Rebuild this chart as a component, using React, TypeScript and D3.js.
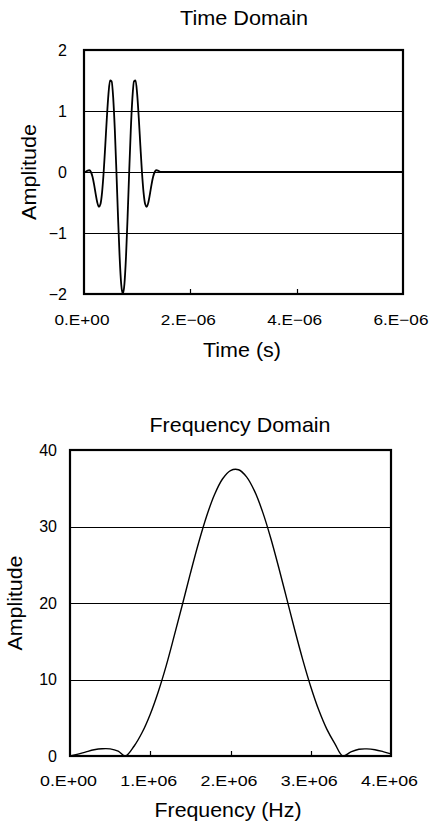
import React from "react";
import * as d3 from "d3";

// ---------- Time-domain data (time in microseconds, amplitude) ----------
const timeUs: number[] = [
  0, 0.01, 0.04, 0.07, 0.1, 0.13, 0.16, 0.19, 0.22, 0.25, 0.28, 0.31, 0.34, 0.37, 0.4, 0.43, 0.46, 0.49,
  0.52, 0.55, 0.58, 0.61, 0.64, 0.67, 0.7, 0.73, 0.76, 0.79, 0.82, 0.85, 0.88, 0.91, 0.94, 0.97,
  1.0, 1.03, 1.06, 1.09, 1.12, 1.15, 1.18, 1.21, 1.24, 1.27, 1.3, 1.33, 1.36, 1.39, 1.42, 1.45,
  1.6, 6.0,
];
const timeAmp: number[] = [
  0, 0, 0.008, 0.024, 0.029, 0, -0.079, -0.207, -0.362, -0.5, -0.57, -0.524, -0.333, 0, 0.433, 0.89,
  1.277, 1.5, 1.486, 1.207, 0.686, 0, -0.736, -1.39, -1.84, -2, -1.84, -1.39, -0.736, 0, 0.686,
  1.207, 1.486, 1.5, 1.277, 0.89, 0.433, 0, -0.333, -0.524, -0.57, -0.5, -0.362, -0.207, -0.079,
  0, 0.029, 0.024, 0.008, 0, 0, 0,
];
const timeTicks: number[] = [0, 2e-6, 4e-6, 6e-6];
const timeTickLabels: string[] = ["0.E+00", "2.E\u221206", "4.E\u221206", "6.E\u221206"];
const timeYTicks: number[] = [2, 1, 0, -1, -2];
const timeYTickLabels: string[] = ["2", "1", "0", "\u22121", "\u22122"];
const timeGrid: number[] = [1, 0, -1];

// ---------- Frequency-domain data (frequency in MHz, amplitude) ----------
const freqMHz: number[] = [
  0, 0.1, 0.2, 0.3, 0.4, 0.5, 0.6, 0.69, 0.8, 0.9, 1.0, 1.1, 1.2, 1.3, 1.4, 1.5, 1.6, 1.7, 1.8, 1.9,
  2.0, 2.1, 2.2, 2.3, 2.4, 2.5, 2.6, 2.7, 2.8, 2.9, 3.0, 3.1, 3.2, 3.3, 3.4, 3.5, 3.6, 3.7, 3.8, 3.9, 4.0,
];
const freqAmp: number[] = [
  0.01, 0.24, 0.54, 0.81, 0.95, 0.93, 0.63, 0, 1.31, 3.1, 5.47, 8.41, 11.85, 15.76, 19.77, 23.87,
  27.78, 31.28, 34.15, 36.21, 37.31, 37.42, 36.49, 34.62, 31.91, 28.53, 24.68, 20.6, 16.5, 12.6,
  9.06, 6.01, 3.52, 1.62, 0, 0.53, 0.88, 0.93, 0.82, 0.58, 0.28,
];
const freqTicks: number[] = [0, 1e6, 2e6, 3e6, 4e6];
const freqTickLabels: string[] = ["0.E+00", "1.E+06", "2.E+06", "3.E+06", "4.E+06"];
const freqYTicks: number[] = [40, 30, 20, 10, 0];
const freqYTickLabels: string[] = ["40", "30", "20", "10", "0"];
const freqGrid: number[] = [30, 20, 10];

const FONT = "'Liberation Sans', Arial, Helvetica, sans-serif";

type PanelProps = {
  title: string;
  xLabel: string;
  xs: number[];
  ys: number[];
  xDomain: [number, number];
  yDomain: [number, number];
  box: { x0: number; x1: number; y0: number; y1: number };
  xTicks: number[];
  xTickLabels: string[];
  yTicks: number[];
  yTickLabels: string[];
  grid: number[];
  titleY: number;
  titleX: number;
  titleLen: number;
  xLabelX: number;
  xLabelY: number;
  xLabelLen: number;
  tickLabelY: number;
  tickLabelLen: number;
  tickLabelDx: number;
  yLabelRight: number;
  ampX: number;
  ampLen: number;
  lineWidth: number;
  smooth: boolean;
};

function Panel(p: PanelProps) {
  const x = d3.scaleLinear().domain(p.xDomain).range([p.box.x0, p.box.x1]);
  const y = d3.scaleLinear().domain(p.yDomain).range([p.box.y1, p.box.y0]);
  const pts: [number, number][] = p.xs.map((v, i) => [v, p.ys[i]]);
  const line = d3
    .line<[number, number]>()
    .x((d) => x(d[0]))
    .y((d) => Math.min(y(d[1]), p.box.y1))
    .curve(p.smooth ? d3.curveCatmullRom.alpha(0.5) : d3.curveMonotoneX);
  const yMid = (y(p.yDomain[0]) + y(p.yDomain[1])) / 2;
  return (
    <g>
      <text
        x={p.titleX}
        y={p.titleY}
        textAnchor="middle"
        fontSize={21}
        fontFamily={FONT}
        textLength={p.titleLen}
        lengthAdjust="spacingAndGlyphs"
      >
        {p.title}
      </text>
      {p.grid.map((g) => (
        <line
          key={"g" + g}
          x1={p.box.x0}
          x2={p.box.x1}
          y1={Math.round(y(g)) + 0.5}
          y2={Math.round(y(g)) + 0.5}
          stroke="#000"
          strokeWidth={1.2}
        />
      ))}
      {p.xTicks.slice(1, -1).map((t) => (
        <line
          key={"t" + t}
          x1={Math.round(x(t)) + 0.5}
          x2={Math.round(x(t)) + 0.5}
          y1={p.box.y1}
          y2={p.box.y1 - 5}
          stroke="#000"
          strokeWidth={1.2}
        />
      ))}
      <path d={line(pts) || ""} fill="none" stroke="#000" strokeWidth={p.lineWidth} strokeLinejoin="round" />
      <rect
        x={p.box.x0}
        y={p.box.y0}
        width={p.box.x1 - p.box.x0}
        height={p.box.y1 - p.box.y0}
        fill="none"
        stroke="#000"
        strokeWidth={2.2}
      />
      {p.xTicks.map((t, i) => (
        <text
          key={"xl" + i}
          x={x(t) + p.tickLabelDx}
          y={p.tickLabelY}
          textAnchor="middle"
          fontSize={15}
          fontFamily={FONT}
          textLength={p.tickLabelLen}
          lengthAdjust="spacingAndGlyphs"
        >
          {p.xTickLabels[i]}
        </text>
      ))}
      {p.yTicks.map((t, i) => (
        <text
          key={"yl" + i}
          x={p.yLabelRight}
          y={y(t)}
          dy="0.36em"
          textAnchor="end"
          fontSize={16}
          fontFamily={FONT}
        >
          {p.yTickLabels[i]}
        </text>
      ))}
      <text
        x={p.xLabelX}
        y={p.xLabelY}
        textAnchor="middle"
        fontSize={21}
        fontFamily={FONT}
        textLength={p.xLabelLen}
        lengthAdjust="spacingAndGlyphs"
      >
        {p.xLabel}
      </text>
      <text
        transform={`translate(${p.ampX},${yMid}) rotate(-90)`}
        textAnchor="middle"
        fontSize={21}
        fontFamily={FONT}
        textLength={p.ampLen}
        lengthAdjust="spacingAndGlyphs"
      >
        Amplitude
      </text>
    </g>
  );
}

export default function App() {
  return (
    <svg
      width={430}
      height={823}
      style={{ position: "absolute", left: 0, top: 0, display: "block", background: "#fff" }}
    >
      <rect x={0} y={0} width={430} height={823} fill="#fff" />
      <Panel
        title="Time Domain"
        xLabel="Time (s)"
        xs={timeUs.map((t) => t * 1e-6)}
        ys={timeAmp}
        xDomain={[0, 6e-6]}
        yDomain={[-2, 2]}
        box={{ x0: 84, x1: 403, y0: 50, y1: 294 }}
        xTicks={timeTicks}
        xTickLabels={timeTickLabels}
        yTicks={timeYTicks}
        yTickLabels={timeYTickLabels}
        grid={timeGrid}
        titleX={244}
        titleY={25}
        titleLen={128}
        xLabelX={242}
        xLabelY={357}
        xLabelLen={78}
        tickLabelY={325}
        tickLabelLen={55}
        tickLabelDx={-2}
        yLabelRight={67}
        ampX={36}
        ampLen={96}
        lineWidth={1.8}
        smooth={false}
      />
      <Panel
        title="Frequency Domain"
        xLabel="Frequency (Hz)"
        xs={freqMHz.map((f) => f * 1e6)}
        ys={freqAmp}
        xDomain={[0, 4e6]}
        yDomain={[0, 40]}
        box={{ x0: 70, x1: 391, y0: 450, y1: 756 }}
        xTicks={freqTicks}
        xTickLabels={freqTickLabels}
        yTicks={freqYTicks}
        yTickLabels={freqYTickLabels}
        grid={freqGrid}
        titleX={240}
        titleY={432}
        titleLen={181}
        xLabelX={228}
        xLabelY={817}
        xLabelLen={147}
        tickLabelY={786}
        tickLabelLen={57}
        tickLabelDx={-1.5}
        yLabelRight={57}
        ampX={22}
        ampLen={95}
        lineWidth={1.4}
        smooth={true}
      />
    </svg>
  );
}
